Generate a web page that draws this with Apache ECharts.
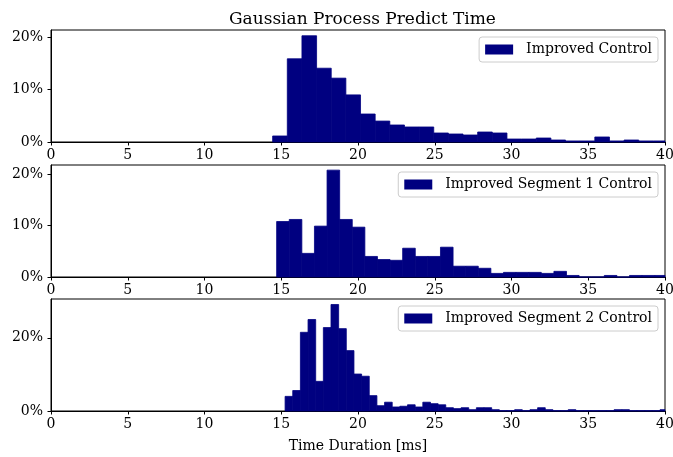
<!DOCTYPE html>
<html lang="en">
<head>
    <meta charset="UTF-8">
    <title>Gaussian Process Predict Time</title>
    <style>
        html, body { margin: 0; padding: 0; background: #fff; }
        #main { width: 673px; height: 457px; }
    </style>
    <script src="https://cdn.jsdelivr.net/npm/echarts@6/dist/echarts.min.js"></script>
</head>
<body>
<div id="main"></div>
<script type="text/javascript">

    // histogram bins: first edge, bin width, share of samples per bin (%)
    var controlStart = 14.44;
    var controlWidth = 0.954;
    var controlPct = [1.15, 15.9, 20.3, 14.1, 12.2, 9.0, 5.35, 4.0, 3.25, 2.87, 2.87, 1.72, 1.53, 1.34,
        1.91, 1.72, 0.57, 0.57, 0.76, 0.38, 0.2, 0.2, 0.96, 0.2, 0.38, 0.2, 0.2];

    var seg1Start = 14.70;
    var seg1Width = 0.821;
    var seg1Pct = [10.8, 11.2, 4.6, 9.9, 20.8, 11.2, 9.7, 4.0, 3.4, 3.25, 5.6, 4.0, 4.0, 5.8, 2.1, 2.1,
        1.7, 0.7, 0.9, 0.9, 0.9, 0.7, 1.1, 0.3, 0, 0, 0.3, 0, 0.3, 0.3, 0.3];

    var seg2Start = 15.25;
    var seg2Width = 0.4985;
    var seg2Pct = [4.0, 5.6, 21.5, 25.0, 8.1, 22.8, 29.1, 22.5, 16.5, 10.1, 9.5, 4.2, 1.45, 2.4, 1.1, 1.3,
        1.7, 1.1, 2.4, 2.0, 1.7, 0.9, 0.65, 0.9, 0.36, 0.9, 0.9, 0.36, 0.1, 0.1, 0.36, 0.1, 0.36, 0.9,
        0.36, 0.1, 0.1, 0.36, 0.1, 0.1, 0.1, 0.1, 0.1, 0.36, 0.36, 0.1, 0.1, 0.1, 0.1, 0.36];

    var seriesNames = ['Improved Control', 'Improved Segment 1 Control', 'Improved Segment 2 Control'];
    var xTicks = [0, 5, 10, 15, 20, 25, 30, 35, 40];
    var yTicks = [[0, 10, 20], [0, 10, 20], [0, 20]];
    var yMax = [21.4, 21.8, 30.6];

    function toBins(start, width, pct) {
        var out = [];
        for (var i = 0; i < pct.length; i++) {
            out.push([start + i * width, start + (i + 1) * width, pct[i]]);
        }
        return out;
    }
    var binData = [
        toBins(controlStart, controlWidth, controlPct),
        toBins(seg1Start, seg1Width, seg1Pct),
        toBins(seg2Start, seg2Width, seg2Pct)
    ];

    var FONT = 'DejaVu Serif';
    var NAVY = '#000080';
    var gridTops = [30, 165, 299];

    function renderBin(params, api) {
        var p0 = api.coord([api.value(0), api.value(2)]);
        var p1 = api.coord([api.value(1), 0]);
        var rect = echarts.graphic.clipRectByRect({
            x: p0[0], y: p0[1], width: p1[0] - p0[0], height: p1[1] - p0[1]
        }, {
            x: params.coordSys.x, y: params.coordSys.y,
            width: params.coordSys.width, height: params.coordSys.height
        });
        if (!rect) return;
        var c = api.visual('color');
        return { type: 'rect', shape: rect, style: { fill: c, stroke: c, lineWidth: 0.8 } };
    }

    var myChart = echarts.init(document.getElementById('main'));
    var option = {
        animation: false,
        backgroundColor: '#fff',
        title: {
            text: 'Gaussian Process Predict Time',
            left: 224, top: 6,
            textStyle: { fontFamily: FONT, fontSize: 17, fontWeight: 'normal', color: '#000' }
        },
        grid: [], xAxis: [], yAxis: [], series: [], legend: []
    };

    for (var i = 0; i < 3; i++) {
        option.grid.push({
            left: 51, right: 8, top: gridTops[i], height: 112,
            outerBoundsMode: 'none', containLabel: false,
            show: true, borderColor: '#000', borderWidth: 1
        });
        option.xAxis.push({
            type: 'value', gridIndex: i, min: 0, max: 40, interval: 5,
            splitLine: { show: false },
            axisLine: { show: true, lineStyle: { color: '#000', width: 1 } },
            axisTick: { show: true, inside: false, length: 3.5, lineStyle: { color: '#000' } },
            axisLabel: { margin: 6, fontFamily: FONT, fontSize: 14, color: '#000',
                customValues: xTicks },
            name: i === 2 ? 'Time Duration [ms]' : '',
            nameLocation: 'middle', nameGap: 28,
            nameTextStyle: { fontFamily: FONT, fontSize: 14, color: '#000' }
        });
        option.yAxis.push({
            type: 'value', gridIndex: i, min: 0, max: yMax[i],
            splitLine: { show: false },
            axisLine: { show: true, lineStyle: { color: '#000', width: 1 } },
            axisTick: { show: true, inside: false, length: 3.5, lineStyle: { color: '#000' },
                customValues: yTicks[i] },
            axisLabel: { margin: 8, fontFamily: FONT, fontSize: 14, color: '#000',
                customValues: yTicks[i], formatter: '{value}%' }
        });
        option.series.push({
            name: seriesNames[i], type: 'custom',
            xAxisIndex: i, yAxisIndex: i,
            itemStyle: { color: NAVY },
            renderItem: renderBin,
            encode: { x: [0, 1], y: 2 },
            data: binData[i]
        });
        option.legend.push({
            data: [seriesNames[i]],
            right: 15, top: gridTops[i] + 7,
            icon: 'rect', itemWidth: 28, itemHeight: 10,
            padding: [5, 6, 5, 6],
            borderColor: '#cccccc', borderWidth: 1, borderRadius: 3,
            backgroundColor: 'rgba(255,255,255,0.8)',
            selectedMode: false,
            textStyle: { fontFamily: FONT, fontSize: 14, color: '#000', lineHeight: 15,
                padding: [0, 0, 0, 8] }
        });
    }

    myChart.setOption(option);

</script>
</body>
</html>
